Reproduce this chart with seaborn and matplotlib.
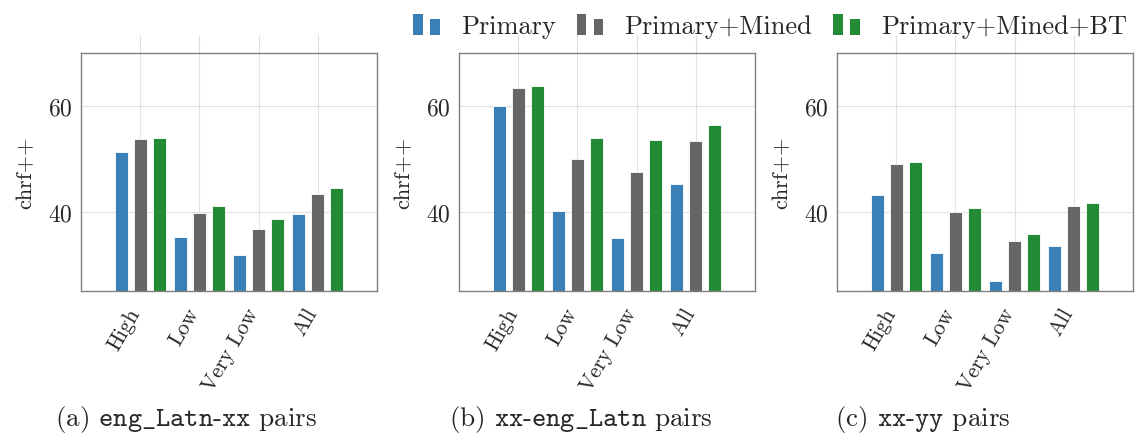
import pandas as pd
import matplotlib
import matplotlib.pyplot as plt
import seaborn as sns
from matplotlib.legend_handler import HandlerBase
from matplotlib.patches import Rectangle

# data
categories = ['High', 'Low', 'Very Low', 'All']
systems = ['Primary', 'Primary+Mined', 'Primary+Mined+BT']

eng_xx_primary = [51.3, 35.3, 31.9, 39.5]
eng_xx_mined = [53.7, 39.8, 36.7, 43.4]
eng_xx_bt = [53.9, 41.1, 38.6, 44.4]

xx_eng_primary = [59.9, 40.1, 35.0, 45.3]
xx_eng_mined = [63.3, 49.9, 47.5, 53.3]
xx_eng_bt = [63.7, 53.9, 53.6, 56.4]

xx_yy_primary = [43.2, 32.1, 26.8, 33.6]
xx_yy_mined = [49.1, 39.9, 34.4, 41.1]
xx_yy_bt = [49.4, 40.6, 35.7, 41.7]

captions = [r'(a) $\mathtt{eng\_Latn}$-$\mathtt{xx}$ pairs',
            r'(b) $\mathtt{xx}$-$\mathtt{eng\_Latn}$ pairs',
            r'(c) $\mathtt{xx}$-$\mathtt{yy}$ pairs']

colors = ['#3a7fb6', '#666666', '#238a36']

panels = [
    [eng_xx_primary, eng_xx_mined, eng_xx_bt],
    [xx_eng_primary, xx_eng_mined, xx_eng_bt],
    [xx_yy_primary, xx_yy_mined, xx_yy_bt],
]

sns.set_theme(style="whitegrid")
plt.rcParams['font.family'] = ['cmr10', 'DejaVu Serif']
plt.rcParams['mathtext.fontset'] = 'cm'
plt.rcParams['axes.formatter.use_mathtext'] = True


class TwoBarHandler(HandlerBase):
    # pgfplots style ybar legend image: two little bars
    def create_artists(self, legend, orig_handle, xdescent, ydescent,
                       width, height, fontsize, trans):
        c = orig_handle.get_facecolor()
        bw = width * 0.36
        r1 = Rectangle((-xdescent, -ydescent), bw, height,
                       facecolor=c, edgecolor='none', transform=trans)
        r2 = Rectangle((-xdescent + width - bw, -ydescent), bw, height * 0.75,
                       facecolor=c, edgecolor='none', transform=trans)
        return [r1, r2]


fig = plt.figure(figsize=(11.35, 4.35), dpi=100)
lefts = [81 / 1135, 459 / 1135, 837 / 1135]

for k, series in enumerate(panels):
    ax = fig.add_axes([lefts[k], 1 - 292 / 435, 296 / 1135, 238 / 435])
    rows = []
    for name, vals in zip(systems, series):
        for cat, v in zip(categories, vals):
            rows.append({'group': cat, 'system': name, 'chrf': v})
    df = pd.DataFrame(rows)

    sns.barplot(data=df, x='group', y='chrf', hue='system', hue_order=systems,
                palette=colors, saturation=1, width=0.96, gap=0.31, ax=ax,
                edgecolor='white', linewidth=0.6, legend=False)

    ax.set_xlim(-1, 4)
    ax.set_ylim(25, 70)
    ax.set_yticks([40, 60])
    ax.set_xticks(range(len(categories)))
    ax.set_xticklabels(categories, rotation=60, ha='right', va='baseline',
                       rotation_mode='anchor', fontsize=15.5)
    ax.tick_params(axis='y', labelsize=17, length=0, pad=6)
    ax.tick_params(axis='x', direction='out', length=13, width=0.8,
                   color='#dddddd', top=True, pad=2)
    ax.grid(True, color='#e2e2e2', linewidth=0.8)
    ax.set_axisbelow(True)
    for s in ax.spines.values():
        s.set_color('#808080')
        s.set_linewidth(1.0)
    ax.set_xlabel('')
    ax.set_ylabel('chrf++', fontsize=16, labelpad=9)

caption_x = [186 / 1135, 581 / 1135, 923 / 1135]
for cx, txt in zip(caption_x, captions):
    fig.text(cx, 1 - 420 / 435, txt, ha='center', va='center', fontsize=19.5)

handles = [Rectangle((0, 0), 1, 1, facecolor=c) for c in colors]
fig.legend(handles, systems, loc='center', bbox_to_anchor=(770 / 1135, 1 - 27 / 435),
           ncol=3, frameon=False, fontsize=19, handler_map={Rectangle: TwoBarHandler()},
           handlelength=1.0, handleheight=0.85, handletextpad=0.8, columnspacing=0.8)

plt.savefig('out.png', dpi=100)
plt.close()
